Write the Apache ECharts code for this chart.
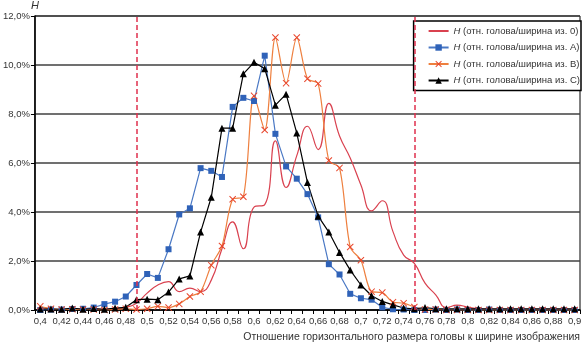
<!DOCTYPE html>
<html>
<head>
<meta charset="utf-8">
<script src="https://cdn.jsdelivr.net/npm/echarts@6/dist/echarts.min.js"></script>
<style>
html,body{margin:0;padding:0;background:#fff;}
#c{width:587px;height:343px;}
</style>
</head>
<body>
<div id="c"></div>
<script>
// Categories: ratio of head width to image width (0.40 .. 0.90)
var categories = ['0,4','0,41','0,42','0,43','0,44','0,45','0,46','0,47','0,48','0,49',
  '0,5','0,51','0,52','0,53','0,54','0,55','0,56','0,57','0,58','0,59',
  '0,6','0,61','0,62','0,63','0,64','0,65','0,66','0,67','0,68','0,69',
  '0,7','0,71','0,72','0,73','0,74','0,75','0,76','0,77','0,78','0,79',
  '0,8','0,81','0,82','0,83','0,84','0,85','0,86','0,87','0,88','0,89','0,9'];

var seriesNames = ['H (отн. голова/ширина из. 0)','H (отн. голова/ширина из. A)',
  'H (отн. голова/ширина из. B)','H (отн. голова/ширина из. C)'];

// values in %
var values0 = [0.12,0.05,0.02,0.05,0.03,0.05,0.03,0.05,0.1,0.28,
  0.69,1.02,1.16,0.75,0.89,0.75,1.22,2.5,3.6,2.5,
  4.2,4.3,6.9,5.0,6.3,7.5,6.55,8.43,7.1,6.2,
  5.1,4.05,4.46,3.2,2.24,1.9,1.1,0.62,0.1,0.2,
  0.12,0.05,0.03,0.03,0.03,0.03,0.03,0.03,0.03,0.03,0.03];

var valuesA = [0.0,0.02,0.02,0.04,0.05,0.1,0.24,0.34,0.55,1.02,
  1.47,1.31,2.48,3.9,4.15,5.79,5.68,5.43,8.29,8.66,
  8.53,10.38,7.19,5.86,5.36,4.73,3.78,1.87,1.45,0.66,
  0.48,0.42,0.11,0.03,0.02,0.0,0.0,0.02,0.0,0.02,
  0.0,0.0,0.02,0.0,0.0,0.0,0.0,0.0,0.0,0.0,0.0];

var valuesB = [0.15,0.05,0.02,0.03,0.02,0.02,0.0,0.02,0.05,0.02,
  0.05,0.15,0.1,0.25,0.55,0.75,1.83,2.61,4.52,4.62,
  8.74,7.35,11.12,9.26,11.12,9.44,9.24,6.1,5.8,2.57,
  2.03,0.75,0.71,0.32,0.28,0.12,0.02,0.02,0.0,0.0,
  0.0,0.0,0.0,0.0,0.0,0.0,0.0,0.0,0.0,0.0,0.0];

var valuesC = [0.04,0.04,0.03,0.08,0.03,0.06,0.03,0.08,0.11,0.42,
  0.44,0.42,0.73,1.27,1.39,3.18,4.6,7.42,7.42,9.64,
  10.11,9.85,8.36,8.81,7.22,5.2,3.83,3.18,2.35,1.63,
  1.02,0.58,0.35,0.21,0.08,0.05,0.1,0.05,0.05,0.05,
  0.05,0.05,0.05,0.05,0.05,0.05,0.05,0.05,0.05,0.05,0.05];

// dashed limit lines (ratio values)
var limits = [0.495, 0.749];

var yTicks = {min: 0, max: 12, interval: 2};

var font = 'Liberation Sans, Arial, sans-serif';
var xMarker = 'path://M0,1L1,0L5,4L9,0L10,1L6,5L10,9L9,10L5,6L1,10L0,9L4,5Z';

var chart = echarts.init(document.getElementById('c'), null, {renderer: 'canvas'});
chart.setOption({
  animation: false,
  backgroundColor: '#fff',
  grid: {left: 32, right: 7, top: 16, bottom: 31, show: true, borderColor: '#000', borderWidth: 1},
  legend: {
    orient: 'vertical', right: 6, top: 21,
    backgroundColor: '#fff', borderColor: '#000', borderWidth: 1.5,
    padding: [4, 1, 4, 14], itemGap: 4.5, itemWidth: 20, itemHeight: 8,
    data: [
      {name: seriesNames[0], itemStyle: {opacity: 0}},
      {name: seriesNames[1]},
      {name: seriesNames[2]},
      {name: seriesNames[3]}
    ],
    formatter: function (n) { return '{i|H}' + n.substring(1); },
    textStyle: {fontFamily: font, fontSize: 9.5, color: '#333', lineHeight: 12,
      rich: {i: {fontStyle: 'italic', fontFamily: font, fontSize: 9.5, color: '#333'}}}
  },
  xAxis: [{
    type: 'category', data: categories, boundaryGap: true,
    name: 'Отношение горизонтального размера головы к ширине изображения',
    nameLocation: 'end', nameGap: 0,
    nameTextStyle: {fontFamily: font, fontSize: 10.5, color: '#333', align: 'right', verticalAlign: 'top', padding: [22, 0, 0, 0]},
    axisLine: {lineStyle: {color: '#000', width: 1.5}},
    axisTick: {show: true, interval: 0, length: 4, lineStyle: {color: '#000'}},
    axisLabel: {interval: 1, fontFamily: font, fontSize: 9.5, color: '#333', margin: 6},
    splitLine: {show: false}
  }, {
    type: 'value', min: 0.395, max: 0.905, show: false
  }],
  yAxis: {
    type: 'value', min: yTicks.min, max: yTicks.max, interval: yTicks.interval,
    name: 'H', nameLocation: 'end', nameGap: 4,
    nameTextStyle: {fontFamily: font, fontSize: 11, fontStyle: 'italic', color: '#333', align: 'center'},
    axisLine: {show: true, lineStyle: {color: '#000', width: 1.5}},
    axisTick: {show: true, length: 4, lineStyle: {color: '#000'}},
    axisLabel: {fontFamily: font, fontSize: 9.5, color: '#333', margin: 5,
      formatter: function (v) { return v.toFixed(1).replace('.', ',') + '%'; }},
    splitLine: {lineStyle: {color: '#404040', width: 1.5}}
  },
  series: [{
    name: seriesNames[0], type: 'line', data: values0, smooth: 0.5,
    symbol: 'none', lineStyle: {color: '#d9414f', width: 1.2}, itemStyle: {color: '#d9414f'}
  }, {
    name: seriesNames[1], type: 'line', data: valuesA,
    symbol: 'rect', symbolSize: 6, lineStyle: {color: '#4a78c4', width: 1.2},
    itemStyle: {color: '#2f62b8'}
  }, {
    name: seriesNames[2], type: 'line', data: valuesB, smooth: 0.3,
    symbol: xMarker, symbolSize: 7, lineStyle: {color: '#ee7f3e', width: 1.2},
    itemStyle: {color: '#e8452c'}
  }, {
    name: seriesNames[3], type: 'line', data: valuesC,
    symbol: 'triangle', symbolSize: 7, lineStyle: {color: '#000', width: 1.2},
    itemStyle: {color: '#000'}
  }, {
    name: 'limits', type: 'line', xAxisIndex: 1, data: [], symbol: 'none',
    markLine: {
      silent: true, symbol: 'none', label: {show: false},
      lineStyle: {color: '#e0304e', type: [5, 3], width: 1.5},
      data: limits.map(function (v) { return {xAxis: v}; })
    }
  }]
});
</script>
</body>
</html>
